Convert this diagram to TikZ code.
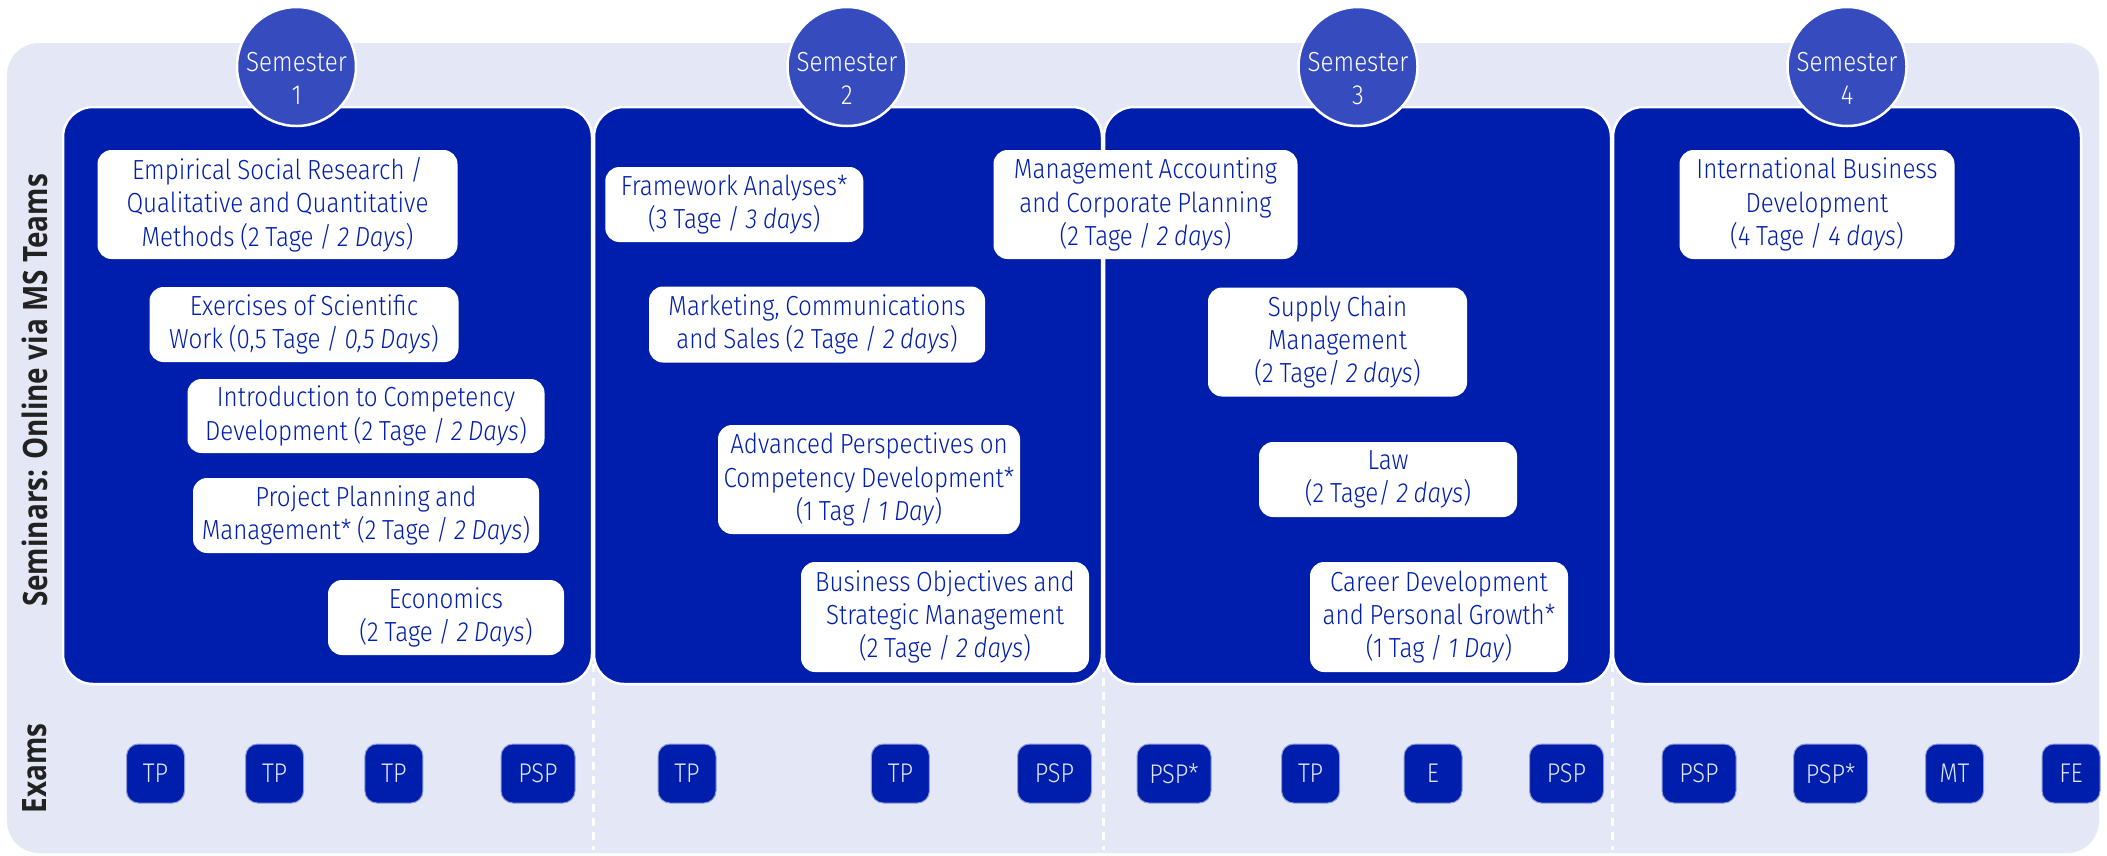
\documentclass[tikz,border=0pt]{standalone}
\usepackage{fontspec}
\setmainfont{Open Sans}
\newfontfamily\boxfont{Fira Sans}[UprightFont={* Light},ItalicFont={* Light Italic},FakeStretch=0.875,WordSpace=0.85]
\newfontfamily\labfont{Open Sans}[FakeStretch=0.83]
\definecolor{bgc}{RGB}{228,231,246}
\definecolor{panelc}{RGB}{0,30,172}
\definecolor{circc}{RGB}{54,76,190}
\definecolor{labc}{RGB}{34,34,34}
\definecolor{examtxt}{RGB}{225,229,248}
\tikzset{
  panel/.style={fill=panelc,draw=white,line width=2.5pt,rounded corners=30pt},
  sepline/.style={draw=white,line width=3pt,dash pattern=on 8pt off 6pt},
  semcirc/.style={circle,fill=circc,draw=white,line width=2.5pt,minimum size=119pt,inner sep=0pt},
  semtext/.style={text=white,anchor=base,inner sep=0pt,font=\boxfont\fontsize{27.6}{33}\selectfont},
  course/.style={fill=white,rounded corners=14pt,text=panelc,align=center,inner xsep=4pt,inner ysep=0pt,
    font=\boxfont\fontsize{27.6}{33.3}\selectfont},
  exam/.style={fill=panelc,draw=white!55!panelc,line width=1pt,rounded corners=12pt,text=examtxt,
    minimum height=59pt,inner sep=0pt,font=\boxfont\fontsize{27}{33}\selectfont},
  narrowexam/.style={exam,minimum width=58pt},
  wideexam/.style={exam,minimum width=74pt},
  sidelabel/.style={rotate=90,text=labc,inner sep=0pt,font=\labfont\bfseries\fontsize{33.6}{40}\selectfont}
}
\begin{document}
\begin{tikzpicture}[x=1pt,y=-1pt]
\useasboundingbox (0,0) rectangle (2107,855);
% background
\fill[bgc,rounded corners=32pt] (7,43) rectangle (2099,853);
% dashed separators in exam row
\draw[sepline] (593,650) -- (593,850);
\draw[sepline] (1103,650) -- (1103,850);
\draw[sepline] (1612,650) -- (1612,850);
% semester panels
\draw[panel] (63,107) rectangle (592,684);
\draw[panel] (594,107) rectangle (1102,684);
\draw[panel] (1104,107) rectangle (1611,684);
\draw[panel] (1613,107) rectangle (2081,684);
% semester circles
\node[semcirc] (c1) at (296.5,66.5) {};
\node[semcirc] (c2) at (847,66.5) {};
\node[semcirc] (c3) at (1358,66.5) {};
\node[semcirc] (c4) at (1847,66.5) {};
\node[semtext] (c1a) at (296.5,71.5) {Semester};
\node[semtext] (c1b) at (296.5,104) {1};
\node[semtext] (c2a) at (847,71.5) {Semester};
\node[semtext] (c2b) at (847,104) {2};
\node[semtext] (c3a) at (1358,71.5) {Semester};
\node[semtext] (c3b) at (1358,104) {3};
\node[semtext] (c4a) at (1847,71.5) {Semester};
\node[semtext] (c4b) at (1847,104) {4};
% side labels
\node[sidelabel] (lsem) at (35,390.5) {Seminars: Online via MS Teams};
\node[sidelabel] (lexam) at (35,768.5) {Exams};
% semester 1 courses
\node[course,minimum width=360pt,minimum height=109pt] (a1) at (277.5,204.5)
  {Empirical Social Research /\\Qualitative and Quantitative\\Methods (2 Tage / \textit{2 Days})};
\node[course,minimum width=309pt,minimum height=75pt] (a2) at (304,324.5)
  {Exercises of Scientific\\Work (0,5 Tage / \textit{0,5 Days})};
\node[course,minimum width=357pt,minimum height=74pt] (a3) at (366,416)
  {Introduction to Competency\\Development (2 Tage / \textit{2 Days})};
\node[course,minimum width=346pt,minimum height=75pt] (a4) at (366,515.5)
  {Project Planning and\\Management* (2 Tage / \textit{2 Days})};
\node[course,minimum width=236pt,minimum height=75pt] (a5) at (446,617.5)
  {Economics\\(2 Tage / \textit{2 Days})};
% semester 2 courses
\node[course,minimum width=258pt,minimum height=75pt] (b1) at (734.3,204.5)
  {Framework Analyses*\\(3 Tage / \textit{3 days})};
\node[course,minimum width=336pt,minimum height=76pt] (b2) at (817,324.5)
  {Marketing, Communications\\and Sales (2 Tage / \textit{2 days})};
\node[course,minimum width=302pt,minimum height=109pt] (b3) at (869,479.5)
  {Advanced Perspectives on\\Competency Development*\\(1 Tag / \textit{1 Day})};
\node[course,minimum width=288pt,minimum height=110pt] (b4) at (945,617)
  {Business Objectives and\\Strategic Management\\(2 Tage / \textit{2 days})};
% semester 2/3 course
\node[course,minimum width=304pt,minimum height=109pt] (b5) at (1145.5,204.5)
  {Management Accounting\\and Corporate Planning\\(2 Tage / \textit{2 days})};
% semester 3 courses
\node[course,minimum width=259pt,minimum height=109pt] (d1) at (1337.5,342)
  {Supply Chain\\Management\\(2 Tage/ \textit{2 days})};
\node[course,minimum width=258pt,minimum height=75pt] (d2) at (1388,479.5)
  {Law\\(2 Tage/ \textit{2 days})};
\node[course,minimum width=258pt,minimum height=110pt] (d3) at (1439,617)
  {Career Development\\and Personal Growth*\\(1 Tag / \textit{1 Day})};
% semester 4 course
\node[course,minimum width=275pt,minimum height=109pt] (e1) at (1817,204.5)
  {International Business\\Development\\(4 Tage / \textit{4 days})};
% exams
\node[narrowexam] (x1) at (155.5,773.5) {TP};
\node[narrowexam] (x2) at (274.6,773.5) {TP};
\node[narrowexam] (x3) at (393.9,773.5) {TP};
\node[wideexam] (x4) at (538,773.5) {PSP};
\node[narrowexam] (x5) at (687,773.5) {TP};
\node[narrowexam] (x6) at (900.4,773.5) {TP};
\node[wideexam] (x7) at (1054.5,773.5) {PSP};
\node[wideexam] (x8) at (1174,773.5) {PSP*};
\node[narrowexam] (x9) at (1310.6,773.5) {TP};
\node[narrowexam] (x10) at (1433,773.5) {E};
\node[wideexam] (x11) at (1566.5,773.5) {PSP};
\node[wideexam] (x12) at (1699,773.5) {PSP};
\node[wideexam] (x13) at (1830.6,773.5) {PSP*};
\node[narrowexam] (x14) at (1954.5,773.5) {MT};
\node[narrowexam] (x15) at (2071,773.5) {FE};
\end{tikzpicture}
\end{document}
